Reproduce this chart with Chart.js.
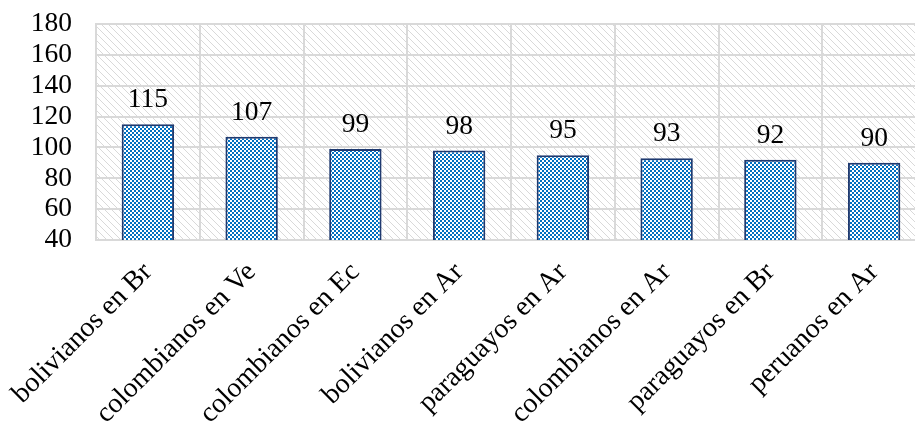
<!DOCTYPE html>
<html>
<head>
<meta charset="utf-8">
<script src="https://cdn.jsdelivr.net/npm/chart.js@4/dist/chart.umd.min.js"></script>
<style>
  html, body { margin: 0; padding: 0; background: #fff; overflow: hidden; }
  #wrap { width: 926px; height: 423px; }
</style>
</head>
<body>
<div id="wrap"><canvas id="chart" width="926" height="423"></canvas></div>
<script>
const categories = ['bolivianos en Br', 'colombianos en Ve', 'colombianos en Ec', 'bolivianos en Ar',
  'paraguayos en Ar', 'colombianos en Ar', 'paraguayos en Br', 'peruanos en Ar'];
const values = [115, 107, 99, 98, 95, 93, 92, 90];
const yMin = 40, yMax = 180, yStep = 20;

const serif = '"Liberation Serif", "Times New Roman", serif';

// checkerboard fill for the bars
function checkerPattern() {
  const c = document.createElement('canvas');
  c.width = 4; c.height = 4;
  const g = c.getContext('2d');
  g.fillStyle = '#ffffff';
  g.fillRect(0, 0, 4, 4);
  g.fillStyle = '#0070c0';
  g.fillRect(0, 0, 2, 2);
  g.fillRect(2, 2, 2, 2);
  return g.createPattern(c, 'repeat');
}

// light diagonal hatch for plot background
function hatchPattern() {
  const n = 7;
  const c = document.createElement('canvas');
  c.width = n; c.height = n;
  const g = c.getContext('2d');
  g.fillStyle = '#ffffff';
  g.fillRect(0, 0, n, n);
  g.fillStyle = '#d9d9d9';
  for (let i = 0; i < n; i++) g.fillRect(i, i, 1, 1);
  return g.createPattern(c, 'repeat');
}

const plotBg = {
  id: 'plotBg',
  beforeDraw(chart) {
    const { ctx, chartArea: a } = chart;
    ctx.save();
    ctx.fillStyle = hatchPattern();
    ctx.fillRect(a.left, a.top, a.right - a.left, a.bottom - a.top);
    ctx.restore();
  }
};

const valueLabels = {
  id: 'valueLabels',
  afterDatasetsDraw(chart) {
    const { ctx } = chart;
    const meta = chart.getDatasetMeta(0);
    ctx.save();
    ctx.font = '27.5px ' + serif;
    ctx.fillStyle = '#000';
    ctx.textAlign = 'center';
    ctx.textBaseline = 'alphabetic';
    meta.data.forEach((bar, i) => {
      ctx.fillText(String(values[i]), bar.x, bar.y - 17);
    });
    ctx.restore();
  }
};

const ctx = document.getElementById('chart').getContext('2d');
new Chart(ctx, {
  type: 'bar',
  data: {
    labels: categories,
    datasets: [{
      data: values,
      backgroundColor: checkerPattern(),
      borderColor: '#1f3a70',
      borderWidth: 2,
      borderSkipped: false,
      categoryPercentage: 1,
      barPercentage: 0.505
    }]
  },
  options: {
    responsive: false,
    animation: false,
    layout: { padding: { top: 24, left: 0, right: 0, bottom: 0 } },
    plugins: { legend: { display: false }, tooltip: { enabled: false } },
    scales: {
      x: {
        offset: true,
        grid: { color: '#d9d9d9', lineWidth: 2, offset: true, drawTicks: false },
        border: { color: '#d9d9d9', width: 2 },
        ticks: {
          color: '#000',
          font: { family: serif, size: 28 },
          minRotation: 45, maxRotation: 45, padding: 16, autoSkip: false
        },
        afterFit: s => { s.height = 183; s.paddingLeft = 0; s.paddingRight = 0; }
      },
      y: {
        min: yMin, max: yMax,
        grid: { color: '#d9d9d9', lineWidth: 2, drawTicks: false },
        border: { color: '#d9d9d9', width: 2 },
        ticks: {
          stepSize: yStep,
          autoSkip: false,
          color: '#000',
          padding: 24,
          font: { family: serif, size: 27.5 }
        },
        afterFit: s => { s.width = 96; s.paddingTop = 0; s.paddingBottom = 0; }
      }
    }
  },
  plugins: [plotBg, valueLabels]
});
</script>
</body>
</html>
